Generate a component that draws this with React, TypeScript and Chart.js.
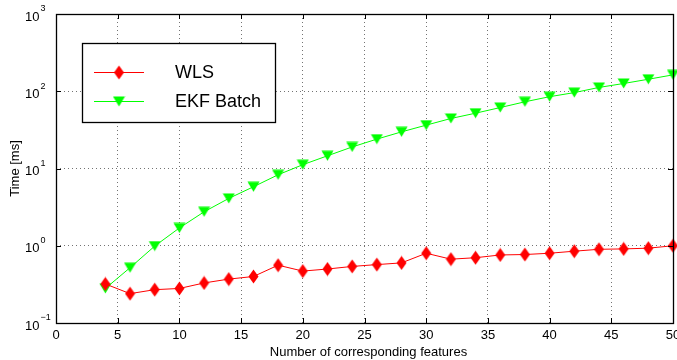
import React, { useEffect, useRef } from "react";
import { Chart, registerables } from "chart.js";

Chart.register(...registerables);

const xValues = [4, 6, 8, 10, 12, 14, 16, 18, 20, 22, 24, 26, 28, 30, 32, 34, 36, 38, 40, 42, 44, 46, 48, 50];
const wlsValues = [0.32, 0.24, 0.27, 0.28, 0.33, 0.37, 0.4, 0.56, 0.47, 0.5, 0.54, 0.57, 0.6, 0.8, 0.67, 0.7, 0.76, 0.77, 0.8, 0.85, 0.9, 0.91, 0.93, 1.0];
const ekfValues = [0.28, 0.52, 0.99, 1.7, 2.75, 4.1, 5.8, 8.3, 11.2, 14.6, 19, 24, 29.8, 36.4, 44.4, 52, 61.5, 73, 85, 96, 112, 126, 143, 163];
const seriesNames = ["WLS", "EKF Batch"];
const xTicks = [0, 5, 10, 15, 20, 25, 30, 35, 40, 45, 50];
const yDecades = [0.1, 1, 10, 100, 1000];
const yExponents = ["\u22121", "0", "1", "2", "3"];
const xTitle = "Number of corresponding features";
const yTitle = "Time [ms]";

const FONT = "'Liberation Sans', Arial, Helvetica, sans-serif";
const RED = "#ff0000";
const GREEN = "#00ff00";

function makeDiamond(color: string) {
  const c = document.createElement("canvas");
  c.width = 11;
  c.height = 15;
  const g = c.getContext("2d")!;
  g.fillStyle = color;
  g.beginPath();
  g.moveTo(5.5, 0.5);
  g.lineTo(10.5, 7.5);
  g.lineTo(5.5, 14.5);
  g.lineTo(0.5, 7.5);
  g.closePath();
  g.fill();
  return c;
}

function makeTriangleDown(color: string) {
  const c = document.createElement("canvas");
  c.width = 13;
  c.height = 11;
  const g = c.getContext("2d")!;
  g.fillStyle = color;
  g.beginPath();
  g.moveTo(0.5, 0.5);
  g.lineTo(12.5, 0.5);
  g.lineTo(6.5, 10.5);
  g.closePath();
  g.fill();
  return c;
}

export default function App() {
  const ref = useRef<HTMLCanvasElement | null>(null);

  useEffect(() => {
    const canvas = ref.current;
    if (!canvas) return;
    const diamond = makeDiamond(RED);
    const tri = makeTriangleDown(GREEN);

    const framePlugin = {
      id: "frame",
      afterDatasetsDraw(chart: any) {
        const { ctx, chartArea } = chart;
        const { left, right, top, bottom } = chartArea;
        const xs = chart.scales.x;
        const ys = chart.scales.y;
        ctx.save();
        ctx.strokeStyle = "#000";
        ctx.lineWidth = 1;
        ctx.setLineDash([]);
        ctx.beginPath();
        const tl = 5;
        xs.ticks.forEach((t: any) => {
          const px = Math.round(xs.getPixelForValue(t.value)) + 0.5;
          ctx.moveTo(px, bottom);
          ctx.lineTo(px, bottom - tl);
          ctx.moveTo(px, top);
          ctx.lineTo(px, top + tl);
        });
        ys.ticks.forEach((t: any) => {
          const py = Math.round(ys.getPixelForValue(t.value)) + 0.5;
          ctx.moveTo(left, py);
          ctx.lineTo(left + tl, py);
          ctx.moveTo(right, py);
          ctx.lineTo(right - tl, py);
        });
        ctx.stroke();
        ctx.lineWidth = 1.3;
        ctx.strokeRect(Math.round(left) + 0.5, Math.round(top) + 0.5, Math.round(right - left), Math.round(bottom - top));

        // y tick labels with superscript exponents
        ctx.fillStyle = "#000";
        ctx.textBaseline = "middle";
        yDecades.forEach((v, i) => {
          const py = ys.getPixelForValue(v);
          ctx.font = `13px ${FONT}`;
          ctx.textAlign = "left";
          const baseX = 25;
          ctx.fillText("10", baseX, py + 3);
          const w = ctx.measureText("10").width;
          ctx.font = `9px ${FONT}`;
          ctx.fillText(yExponents[i], baseX + w + 1, py - 5);
        });

        // axis titles
        ctx.font = `13px ${FONT}`;
        ctx.textAlign = "center";
        ctx.textBaseline = "middle";
        ctx.fillText(xTitle, (left + right) / 2 + 4, 352);
        ctx.save();
        ctx.translate(15, (top + bottom) / 2);
        ctx.rotate(-Math.PI / 2);
        ctx.fillText(yTitle, 0, 0);
        ctx.restore();

        // legend
        const bx = 82.5, by = 43.5, bw = 193, bh = 79;
        ctx.fillStyle = "#fff";
        ctx.fillRect(bx, by, bw, bh);
        ctx.strokeStyle = "#000";
        ctx.lineWidth = 1.3;
        ctx.strokeRect(bx, by, bw, bh);
        const rows = [
          { y: 72.5, color: RED, img: diamond, name: seriesNames[0] },
          { y: 101.5, color: GREEN, img: tri, name: seriesNames[1] },
        ];
        rows.forEach((r) => {
          ctx.strokeStyle = r.color;
          ctx.lineWidth = 1;
          ctx.beginPath();
          ctx.moveTo(94, r.y);
          ctx.lineTo(144, r.y);
          ctx.stroke();
          ctx.drawImage(r.img, 119 - r.img.width / 2, r.y - r.img.height / 2);
          ctx.fillStyle = "#000";
          ctx.font = `18px ${FONT}`;
          ctx.textAlign = "left";
          ctx.textBaseline = "middle";
          ctx.fillText(r.name, 175, r.y + 1);
        });
        ctx.restore();
      },
    };

    const gridColor = (ctx: any, edges: number[]) =>
      edges.includes(ctx.tick?.value) ? "rgba(0,0,0,0)" : "rgba(0,0,0,0.55)";

    const chart = new Chart(canvas, {
      type: "line",
      data: {
        datasets: [
          {
            label: seriesNames[0],
            data: xValues.map((x, i) => ({ x, y: wlsValues[i] })),
            borderColor: RED,
            backgroundColor: RED,
            borderWidth: 1,
            pointStyle: diamond as any,
            pointRadius: 6,
            tension: 0,
            clip: false,
          },
          {
            label: seriesNames[1],
            data: xValues.map((x, i) => ({ x, y: ekfValues[i] })),
            borderColor: GREEN,
            backgroundColor: GREEN,
            borderWidth: 1,
            pointStyle: tri as any,
            pointRadius: 6,
            tension: 0,
            clip: false,
          },
        ],
      },
      options: {
        responsive: false,
        animation: false,
        devicePixelRatio: 1,
        layout: { autoPadding: false, padding: { left: 0, top: 14, right: 4, bottom: 0 } },
        plugins: { legend: { display: false }, tooltip: { enabled: false } },
        scales: {
          x: {
            type: "linear",
            min: xTicks[0],
            max: xTicks[xTicks.length - 1],
            afterBuildTicks: (s: any) => {
              s.ticks = xTicks.map((v) => ({ value: v }));
            },
            ticks: {
              color: "#000",
              font: { family: FONT, size: 13 },
              padding: 5,
              maxRotation: 0,
              autoSkip: false,
              callback: (v: any) => String(v),
            },
            grid: {
              drawTicks: false,
              color: (c: any) => gridColor(c, [xTicks[0], xTicks[xTicks.length - 1]]),
              lineWidth: 1,
            },
            border: { display: false, dash: [1, 3] },
            afterFit: (s: any) => {
              s.height = 37;
              s.paddingLeft = 0;
              s.paddingRight = 0;
            },
          },
          y: {
            type: "logarithmic",
            min: yDecades[0],
            max: yDecades[yDecades.length - 1],
            ticks: { display: false },
            afterBuildTicks: (s: any) => {
              s.ticks = yDecades.map((v) => ({ value: v }));
            },
            grid: {
              drawTicks: false,
              color: (c: any) => gridColor(c, [yDecades[0], yDecades[yDecades.length - 1]]),
              lineWidth: 1,
            },
            border: { display: false, dash: [1, 3] },
            afterFit: (s: any) => {
              s.width = 56;
              s.paddingTop = 0;
              s.paddingBottom = 0;
            },
          },
        },
      },
      plugins: [framePlugin],
    } as any);

    return () => chart.destroy();
  }, []);

  return (
    <div style={{ position: "fixed", left: 0, top: 0, width: 677, height: 360, background: "#fff" }}>
      <canvas ref={ref} width={677} height={360} style={{ display: "block" }} />
    </div>
  );
}
